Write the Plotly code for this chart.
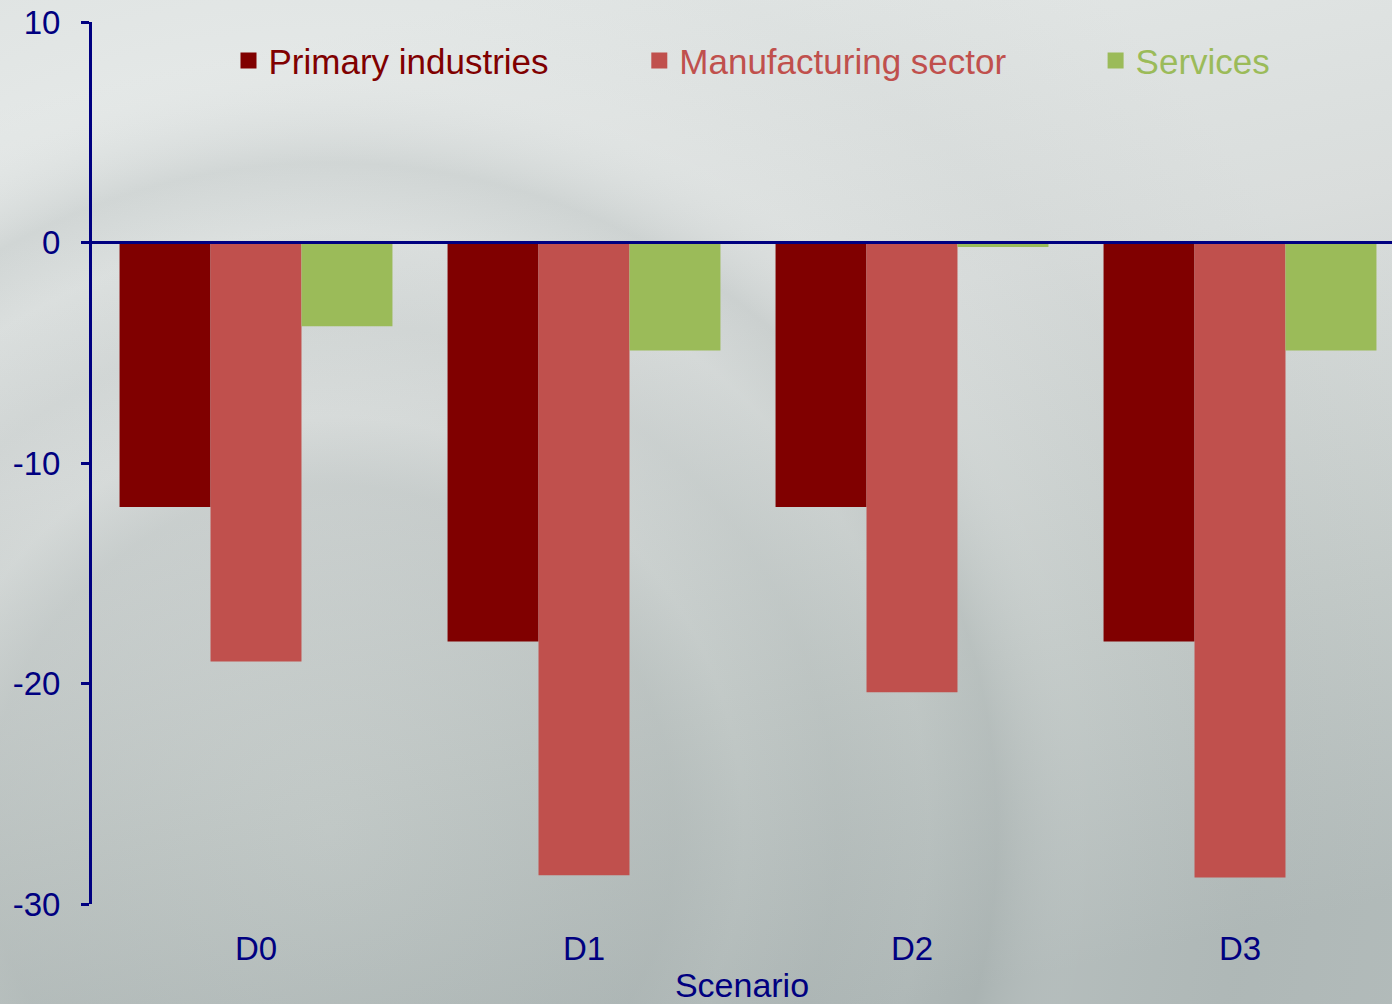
import base64
import plotly.graph_objects as go

# Scenario results (% change) by sector
scenarios = ["D0", "D1", "D2", "D3"]
primary = [-12.0, -18.1, -12.0, -18.1]
manufacturing = [-19.0, -28.7, -20.4, -28.8]
services = [-3.8, -4.9, -0.2, -4.9]

series_names = ["Primary industries", "Manufacturing sector", "Services"]
series_colors = ["#800000", "#C0504D", "#9BBB59"]
series_values = [primary, manufacturing, services]

y_tickvals = [-30, -20, -10, 0, 10]
y_ticktext = ["-30", "-20", "-10", "0", "10"]

NAVY = "#000080"
FONT = "Liberation Sans, Arial, sans-serif"

W, H = 1392, 1004
ML, MR, MT, MB = 92, 0, 22, 100
PW, PH = W - ML - MR, H - MT - MB

# Soft grey backdrop with faint concentric swirls
bg_svg = f"""<svg xmlns='http://www.w3.org/2000/svg' width='{W}' height='{H}' viewBox='0 0 {W} {H}' preserveAspectRatio='none'>
<defs>
<linearGradient id='lg' x1='0.35' y1='0' x2='0.65' y2='1'>
<stop offset='0' stop-color='#e3e7e6'/>
<stop offset='0.35' stop-color='#d8dcdb'/>
<stop offset='0.7' stop-color='#c2c9c7'/>
<stop offset='1' stop-color='#b0b9b8'/>
</linearGradient>
<radialGradient id='rg' cx='330' cy='830' r='1150' gradientUnits='userSpaceOnUse'>
<stop offset='0.00' stop-color='#8f9999' stop-opacity='0.00'/>
<stop offset='0.30' stop-color='#8f9999' stop-opacity='0.16'/>
<stop offset='0.36' stop-color='#8f9999' stop-opacity='0.02'/>
<stop offset='0.44' stop-color='#8f9999' stop-opacity='0.12'/>
<stop offset='0.52' stop-color='#8f9999' stop-opacity='0.03'/>
<stop offset='0.58' stop-color='#8f9999' stop-opacity='0.18'/>
<stop offset='0.66' stop-color='#ffffff' stop-opacity='0.05'/>
<stop offset='0.80' stop-color='#8f9999' stop-opacity='0.04'/>
<stop offset='1.00' stop-color='#ffffff' stop-opacity='0.04'/>
</radialGradient>
</defs>
<rect width='{W}' height='{H}' fill='url(#lg)'/>
<rect width='{W}' height='{H}' fill='url(#rg)'/>
</svg>"""
bg_uri = "data:image/svg+xml;base64," + base64.b64encode(bg_svg.encode()).decode()

fig = go.Figure()

for name, color, vals in zip(series_names, series_colors, series_values):
    fig.add_trace(go.Bar(
        x=scenarios, y=vals, name=name,
        marker=dict(color=color, line=dict(width=0)),
        showlegend=False,
    ))

# One legend per series so each label carries its series colour
legend_ids = ["legend", "legend2", "legend3"]
legend_x = [0.105, 0.421, 0.772]
for name, color, lid in zip(series_names, series_colors, legend_ids):
    fig.add_trace(go.Scatter(
        x=[None], y=[None], mode="markers", name=name,
        marker=dict(symbol="square", size=20, color=color),
        legend=lid, showlegend=True,
    ))

legend_defs = {}
for lid, lx, color in zip(legend_ids, legend_x, series_colors):
    legend_defs[lid] = dict(
        x=lx, y=0.956, xanchor="left", yanchor="middle",
        orientation="h", bgcolor="rgba(0,0,0,0)", borderwidth=0,
        font=dict(family=FONT, size=35, color=color),
        itemwidth=30,
    )

fig.update_layout(
    width=W, height=H,
    margin=dict(l=ML, r=MR, t=MT, b=MB, pad=0),
    paper_bgcolor="#d6dbd9",
    plot_bgcolor="rgba(0,0,0,0)",
    barmode="group", bargap=0.168, bargroupgap=0,
    font=dict(family=FONT, color=NAVY),
    xaxis=dict(
        range=[-0.5, -0.5 + PW / 328.0],
        showgrid=False, zeroline=False, showline=False,
        ticks="", tickfont=dict(size=33, color=NAVY),
        ticklabelstandoff=22,
        title=dict(text="Scenario", font=dict(size=34, color=NAVY), standoff=10),
    ),
    yaxis=dict(
        range=[-30, 10], tickvals=y_tickvals, ticktext=y_ticktext,
        showgrid=False, zeroline=False,
        showline=True, linecolor=NAVY, linewidth=3,
        ticks="outside", ticklen=8, tickwidth=3, tickcolor=NAVY,
        tickfont=dict(size=33, color=NAVY),
        ticklabelstandoff=14,
    ),
    shapes=[dict(
        type="line", xref="paper", yref="y", x0=0, x1=1, y0=0, y1=0,
        line=dict(color=NAVY, width=3), layer="above",
    )],
    images=[dict(
        source=bg_uri, xref="paper", yref="paper",
        x=-ML / PW, y=1 + MT / PH, sizex=W / PW, sizey=H / PH,
        xanchor="left", yanchor="top", sizing="stretch", layer="below",
    )],
    **legend_defs,
)

fig.write_html("out.html")
